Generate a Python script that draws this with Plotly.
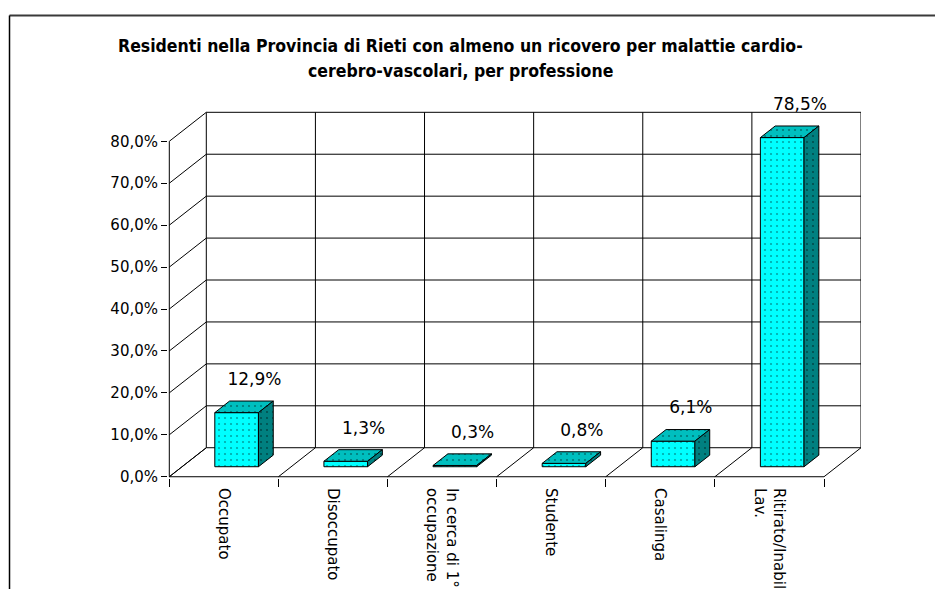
import plotly.graph_objects as go

# ---------------- data ----------------
categories = ["Occupato", "Disoccupato", "In cerca di 1°<br>occupazione",
              "Studente", "Casalinga", "Ritirato/Inabil.<br>Lav."]
values = [12.9, 1.3, 0.3, 0.8, 6.1, 78.5]
y_ticks = [0, 10, 20, 30, 40, 50, 60, 70, 80]
y_tick_labels = ["0,0%", "10,0%", "20,0%", "30,0%", "40,0%", "50,0%", "60,0%", "70,0%", "80,0%"]
title_lines = ["Residenti nella Provincia di Rieti con almeno un ricovero per malattie cardio-",
               "cerebro-vascolari, per professione"]

# ---------------- 3D projection parameters (data units) ----------------
N = len(categories)
YMAX = 80
DX, DY = 0.339, 6.92          # oblique depth offset of the back wall
BW = 0.40                     # bar width (category units)
F0, F1 = 0.345, 0.745         # bar depth span (fraction of full depth)
LBL_DX, LBL_DY = 0.28, 10.0   # data label offset

FONT = "Tahoma, DejaVu Sans, Verdana, sans-serif"

fig = go.Figure()

# ---------------- walls, floor and gridlines ----------------
gx, gy = [], []
def seg(x0, y0, x1, y1):
    gx.extend([x0, x1, None]); gy.extend([y0, y1, None])

for t in y_ticks:
    seg(DX, DY + t, N + DX, DY + t)          # back wall horizontal grid
    seg(0, t, DX, DY + t)                    # left wall diagonals
for i in range(N + 1):
    seg(i + DX, DY, i + DX, DY + YMAX)       # back wall verticals
    seg(i, 0, i + DX, DY)                    # floor diagonals
seg(0, 0, N, 0)                              # floor front edge
seg(0, 0, 0, YMAX)                           # front value axis

fig.add_trace(go.Scatter(x=gx, y=gy, mode="lines",
                         line=dict(color="black", width=1),
                         hoverinfo="skip", showlegend=False))

# ---------------- 3D bars ----------------
fx, fy, tx, ty, sx, sy = [], [], [], [], [], []
bdx, bdy = (F1 - F0) * DX, (F1 - F0) * DY
for i, v in enumerate(values):
    xc = i + 0.5 + F0 * DX
    x0, x1 = xc - BW / 2, xc + BW / 2
    yb = F0 * DY
    yt = yb + v
    fx += [x0, x1, x1, x0, x0, None]; fy += [yb, yb, yt, yt, yb, None]
    tx += [x0, x1, x1 + bdx, x0 + bdx, x0, None]; ty += [yt, yt, yt + bdy, yt + bdy, yt, None]
    sx += [x1, x1 + bdx, x1 + bdx, x1, x1, None]; sy += [yb, yb + bdy, yt + bdy, yt, yb, None]

def face(x, y, bg, fg):
    fig.add_trace(go.Scatter(x=x, y=y, mode="lines", fill="toself",
                             fillcolor=bg,
                             fillpattern=dict(shape=".", bgcolor=bg, fgcolor=fg,
                                              size=6, solidity=0.1),
                             line=dict(color="black", width=1),
                             hoverinfo="skip", showlegend=False))

face(fx, fy, "#00FFFF", "#00A8A8")
face(tx, ty, "#00BFBF", "#007878")
face(sx, sy, "#008080", "#004C4C")

# ---------------- data labels ----------------
labels = [f"{v:.1f}".replace(".", ",") + "%" for v in values]
fig.add_trace(go.Scatter(
    x=[i + 0.5 + LBL_DX for i in range(N)],
    y=[v + LBL_DY for v in values],
    mode="text", text=labels, textposition="middle center",
    textfont=dict(family=FONT, size=17, color="black"),
    cliponaxis=False, hoverinfo="skip", showlegend=False))

# ---------------- title ----------------
for k, (line, yp) in enumerate(zip(title_lines, [1.1163, 1.0517])):
    fig.add_annotation(text=line, xref="paper", yref="paper", x=0.4214, y=yp,
                       xanchor="center", yanchor="middle", showarrow=False,
                       font=dict(family="DejaVu Sans Condensed, DejaVu Sans, sans-serif",
                                 size=17.5, color="black", weight="bold"))

# ---------------- outer frame ----------------
fig.add_shape(type="line", xref="paper", yref="paper", x0=-0.2287, x1=1.14,
              y0=1.1951, y1=1.1951, line=dict(color="#3a3a3a", width=2))
fig.add_shape(type="line", xref="paper", yref="paper", x0=-0.2287, x1=-0.2287,
              y0=1.1951, y1=-0.32, line=dict(color="black", width=1.5))

# the page body has an 8px margin, so the plot area is offset by 8px up/left
fig.update_layout(
    width=943, height=589,
    margin=dict(l=160, r=90, t=83, b=119),
    paper_bgcolor="white", plot_bgcolor="white",
    template="none",
    showlegend=False,
    xaxis=dict(range=[-0.012, N + DX], showgrid=False, zeroline=False, showline=False,
               tickmode="array", tickvals=[i + 0.5 for i in range(N)], ticktext=categories,
               tickangle=90, ticks="outside", ticklen=6, tickcolor="rgba(0,0,0,0)",
               tickfont=dict(family=FONT, size=15, color="black"),
               minor=dict(tickmode="array", tickvals=list(range(N + 1)), ticks="outside",
                          ticklen=8, tickcolor="black", tickwidth=1, showgrid=False),
               automargin=False, fixedrange=True),
    yaxis=dict(range=[-0.3, 92], showgrid=False, zeroline=False, showline=False,
               tickmode="array", tickvals=y_ticks, ticktext=y_tick_labels,
               ticks="outside", ticklen=6, tickcolor="black", tickwidth=1,
               tickfont=dict(family=FONT, size=15, color="black"),
               automargin=False, fixedrange=True),
)

fig.write_html("out.html")
